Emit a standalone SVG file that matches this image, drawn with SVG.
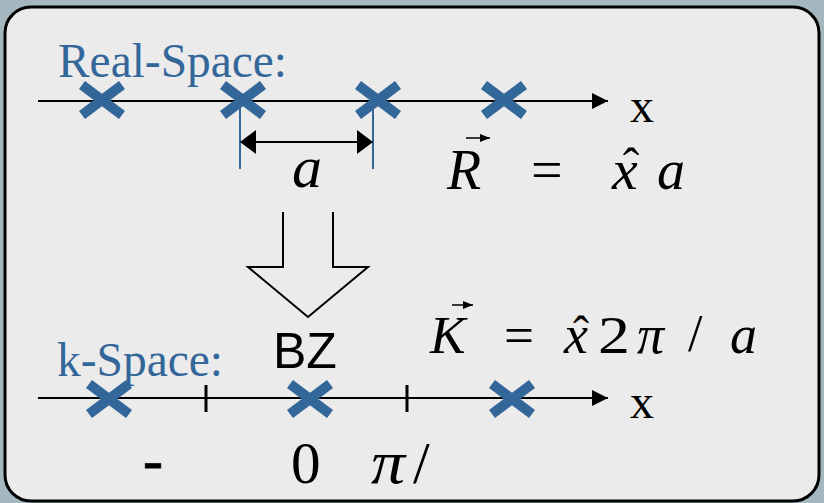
<svg xmlns="http://www.w3.org/2000/svg" width="824" height="503" viewBox="0 0 824 503">
<defs>
<style>
.lab{font-family:"Liberation Serif","Times New Roman",serif;fill:#336699;font-size:48px}
.mt{font-family:"Liberation Serif","Times New Roman",serif;fill:#000;font-size:40px}
.it{font-style:italic}
.ax{stroke:#000;stroke-width:2;fill:none}
.cr{stroke:#336699;stroke-width:10;fill:none}
</style>
<marker id="ah" viewBox="0 0 16 16" refX="16" refY="8" markerWidth="16" markerHeight="16" markerUnits="userSpaceOnUse" orient="auto">
<path d="M0,0 L16,8 L0,16 Z" fill="#000"/>
</marker>
<marker id="ahs" viewBox="0 0 16 24" refX="15" refY="12" markerWidth="16" markerHeight="24" markerUnits="userSpaceOnUse" orient="auto-start-reverse">
<path d="M0,0 L16,12 L0,24 Z" fill="#000"/>
</marker>
<marker id="vh" viewBox="0 0 10 8" refX="10" refY="4" markerWidth="10" markerHeight="8" markerUnits="userSpaceOnUse" orient="auto">
<path d="M0,0 L10,4 L0,8 Z" fill="#000"/>
</marker>
<g id="xm"><path class="cr" d="M-20,-15 L20,15 M-20,15 L20,-15"/></g>
</defs>
<rect x="0" y="0" width="824" height="503" fill="#a4b6be"/>
<rect id="panel" x="5" y="7" width="814" height="494" rx="26" ry="26" fill="#ebebeb" stroke="#000" stroke-width="3"/>

<g id="connectors">
<line class="ax" x1="38" y1="101" x2="608" y2="101" marker-end="url(#ah)"/>
<line class="ax" x1="38" y1="398" x2="608" y2="398" marker-end="url(#ah)"/>
<line x1="240" y1="107" x2="240" y2="169" stroke="#336699" stroke-width="2"/>
<line x1="373" y1="107" x2="373" y2="169" stroke="#336699" stroke-width="2"/>
<line class="ax" x1="241" y1="142" x2="372" y2="142" marker-start="url(#ahs)" marker-end="url(#ahs)"/>
<path id="bigarrow" d="M283,212 L283,267 L248,267 L308,317 L368,267 L333,267 L333,212" fill="none" stroke="#000" stroke-width="2"/>
<line x1="206" y1="385" x2="206" y2="412" stroke="#000" stroke-width="3"/>
<line x1="407" y1="385" x2="407" y2="412" stroke="#000" stroke-width="3"/>
</g>

<g id="real-space">
<text class="lab" x="58" y="77" textLength="229" lengthAdjust="spacingAndGlyphs">Real-Space:</text>
<use href="#xm" x="102" y="100"/>
<use href="#xm" x="243" y="100"/>
<use href="#xm" x="378" y="100"/>
<use href="#xm" x="504" y="100"/>
<text class="mt" transform="translate(630,122) scale(1.2)">x</text>
<text class="mt it" transform="translate(292,187) scale(1.5)">a</text>
</g>

<g id="R-eq">
<text class="mt it" transform="translate(447,189) scale(1.4)">R</text>
<line x1="466" y1="138" x2="490" y2="138" stroke="#000" stroke-width="1.5" marker-end="url(#vh)"/>
<text class="mt" transform="translate(531,189) scale(1.4)">=</text>
<text class="mt it" transform="translate(612,189) scale(1.45)">x</text>
<text class="mt" transform="translate(631,183) scale(1.25)" text-anchor="middle">ˆ</text>
<text class="mt it" transform="translate(657,189) scale(1.4)">a</text>
</g>

<g id="k-space">
<text class="lab" x="57" y="376" textLength="166" lengthAdjust="spacingAndGlyphs">k-Space:</text>
<text x="273" y="368" font-family="Liberation Sans, Arial, sans-serif" font-size="50" fill="#000">BZ</text>
<use href="#xm" x="109" y="399"/>
<use href="#xm" x="310" y="399"/>
<use href="#xm" x="512" y="399"/>
<text class="mt" transform="translate(630,418) scale(1.2)">x</text>
<text class="mt" transform="translate(143,480) scale(1.5)" stroke="#000" stroke-width="0.5">-</text>
<text class="mt" transform="translate(291,483) scale(1.48)">0</text>
<text class="mt it" transform="translate(371,483) scale(1.7,1.55)">π</text>
<text class="mt" transform="translate(413,483) scale(1.5)">/</text>
</g>

<g id="K-eq">
<text class="mt it" transform="translate(430,353) scale(1.33)">K</text>
<line x1="452" y1="305" x2="473" y2="305" stroke="#000" stroke-width="1.5" marker-end="url(#vh)"/>
<text class="mt" transform="translate(504,353) scale(1.33)">=</text>
<text class="mt it" transform="translate(564,353) scale(1.35)">x</text>
<text class="mt" transform="translate(581,350) scale(1.2)" text-anchor="middle">ˆ</text>
<text class="mt" transform="translate(598,353) scale(1.33)" textLength="24" lengthAdjust="spacingAndGlyphs">2</text>
<text class="mt it" transform="translate(637,353) scale(1.35)">π</text>
<text class="mt" transform="translate(688,351) scale(1.3)">/</text>
<text class="mt it" transform="translate(730,353) scale(1.35)">a</text>
</g>
</svg>
